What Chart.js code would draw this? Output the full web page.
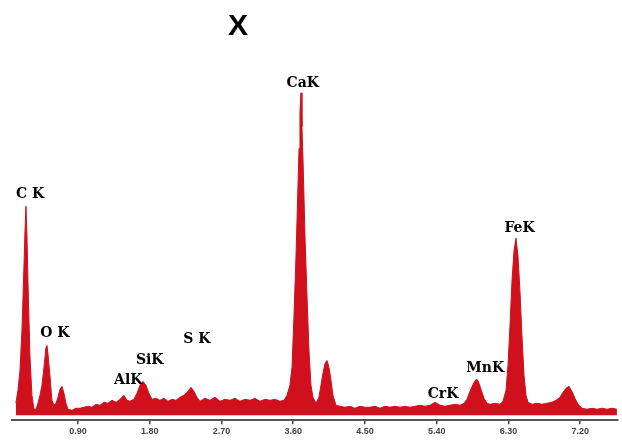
<!DOCTYPE html>
<html>
<head>
<meta charset="utf-8">
<title>X</title>
<script src="https://cdn.jsdelivr.net/npm/chart.js@4/dist/chart.umd.min.js"></script>
<style>
  html, body { margin: 0; padding: 0; background: #fff; }
  #wrap { width: 622px; height: 441px; }
</style>
</head>
<body>
<div id="wrap"><canvas id="spectrum"></canvas></div>
<script>
// EDS spectrum, energy in keV, counts in arbitrary units
const energy = [
  0.12, 0.147, 0.172, 0.197, 0.222, 0.235, 0.247, 0.26, 0.272, 0.297,
  0.322, 0.347, 0.373, 0.398, 0.423, 0.448, 0.473, 0.498, 0.511, 0.523,
  0.548, 0.573, 0.598, 0.624, 0.649, 0.674, 0.699, 0.724, 0.749, 0.774,
  0.824, 0.875, 0.925, 0.975, 1.025, 1.075, 1.125, 1.176, 1.226, 1.276,
  1.326, 1.377, 1.427, 1.477, 1.514, 1.552, 1.602, 1.64, 1.678, 1.715,
  1.753, 1.79, 1.828, 1.878, 1.928, 1.979, 2.029, 2.079, 2.129, 2.179,
  2.229, 2.28, 2.317, 2.355, 2.393, 2.43, 2.493, 2.556, 2.618, 2.681,
  2.744, 2.807, 2.87, 2.932, 2.995, 3.058, 3.12, 3.183, 3.246, 3.309,
  3.371, 3.434, 3.484, 3.522, 3.559, 3.585, 3.61, 3.635, 3.66, 3.673,
  3.685, 3.698, 3.71, 3.723, 3.748, 3.773, 3.798, 3.823, 3.848, 3.886,
  3.923, 3.948, 3.973, 3.999, 4.024, 4.049, 4.074, 4.099, 4.137, 4.187,
  4.25, 4.312, 4.375, 4.438, 4.501, 4.563, 4.626, 4.689, 4.752, 4.814,
  4.877, 4.94, 5.003, 5.065, 5.128, 5.191, 5.254, 5.316, 5.379, 5.442,
  5.504, 5.567, 5.63, 5.693, 5.743, 5.78, 5.818, 5.856, 5.893, 5.918,
  5.956, 5.994, 6.031, 6.069, 6.132, 6.194, 6.232, 6.27, 6.295, 6.32,
  6.345, 6.37, 6.395, 6.42, 6.445, 6.47, 6.496, 6.521, 6.546, 6.596,
  6.659, 6.722, 6.784, 6.847, 6.897, 6.947, 6.985, 7.022, 7.06, 7.097,
  7.135, 7.173, 7.223, 7.286, 7.349, 7.411, 7.474, 7.537, 7.6, 7.662
];
const counts = [
  12, 25, 45, 85, 150, 185, 210, 180, 135, 60,
  20, 6, 6, 12, 20, 30, 48, 68, 70, 62,
  40, 15, 10, 12, 18, 26, 29, 22, 12, 6,
  5, 7, 7, 8, 9, 8, 11, 10, 13, 12,
  15, 13, 16, 20, 15, 14, 16, 22, 30, 34,
  30, 22, 16, 17, 15, 17, 14, 16, 15, 18,
  20, 24, 28, 24, 18, 14, 17, 15, 18, 14,
  16, 15, 17, 14, 16, 15, 17, 14, 16, 15,
  16, 14, 15, 20, 30, 48, 100, 160, 230, 268,
  305, 324, 290, 257, 180, 120, 65, 30, 18, 12,
  18, 30, 42, 52, 55, 48, 35, 20, 10, 9,
  8, 9, 7, 9, 8, 8, 9, 7, 9, 8,
  9, 8, 9, 8, 9, 10, 9, 10, 13, 10,
  9, 10, 11, 10, 12, 16, 24, 31, 36, 35,
  26, 17, 12, 11, 12, 11, 14, 25, 50, 90,
  135, 165, 178, 160, 125, 80, 40, 20, 13, 11,
  12, 11, 12, 13, 15, 18, 23, 27, 29, 24,
  17, 11, 7, 6, 7, 6, 7, 6, 7, 6
];

// x-axis tick labels (keV)
const tickValues = [0.9, 1.8, 2.7, 3.6, 4.5, 5.4, 6.3, 7.2];

// peak labels: name, energy of label centre, height of label centre
const peakNames = ['C K', 'O K', 'AlK', 'SiK', 'S K', 'CaK', 'CrK', 'MnK', 'FeK'];
const peakEnergy = [0.30, 0.61, 1.53, 1.80, 2.39, 3.72, 5.48, 6.01, 6.44];
const peakHeight = [222, 82, 35, 55, 76, 334, 21, 47, 188];

const points = energy.map((e, i) => ({ x: e, y: counts[i] }));

// draw the title and the element labels
const labelPlugin = {
  id: 'peakLabels',
  afterDraw(chart) {
    const ctx = chart.ctx;
    const xs = chart.scales.x;
    const ys = chart.scales.y;
    ctx.save();
    ctx.fillStyle = '#000';
    ctx.textAlign = 'center';
    ctx.textBaseline = 'middle';
    ctx.font = 'bold 30px "Liberation Sans", Arial, sans-serif';
    ctx.fillText('X', 238, 27);
    ctx.font = 'bold 14px "DejaVu Serif", serif';
    peakNames.forEach((name, i) => {
      ctx.fillText(name, xs.getPixelForValue(peakEnergy[i]), ys.getPixelForValue(peakHeight[i]));
    });
    ctx.restore();
  }
};

new Chart(document.getElementById('spectrum'), {
  type: 'line',
  data: {
    datasets: [{
      data: points,
      borderColor: '#d0101c',
      backgroundColor: '#d0101c',
      borderWidth: 1,
      pointRadius: 0,
      tension: 0,
      fill: 'origin'
    }]
  },
  options: {
    responsive: true,
    maintainAspectRatio: false,
    animation: false,
    layout: { padding: { top: 60, left: 12, right: 4, bottom: 2 } },
    plugins: {
      legend: { display: false },
      tooltip: { enabled: false },
      title: { display: false }
    },
    scales: {
      x: {
        type: 'linear',
        min: 0.072,
        max: 7.675,
        afterBuildTicks: scale => {
          scale.ticks = tickValues.map(v => ({ value: v }));
        },
        border: { display: true, color: '#555', width: 2 },
        grid: { display: true, drawOnChartArea: false, drawTicks: true, tickLength: 4, color: '#444', lineWidth: 1.5 },
        ticks: {
          padding: 2,
          maxRotation: 0,
          autoSkip: false,
          color: '#444',
          font: { family: '"Liberation Sans", Arial, sans-serif', size: 9, weight: 'bold' },
          callback: v => Number(v).toFixed(2)
        }
      },
      y: {
        display: false,
        min: -5,
        max: 357
      }
    }
  },
  plugins: [labelPlugin]
});
</script>
</body>
</html>
